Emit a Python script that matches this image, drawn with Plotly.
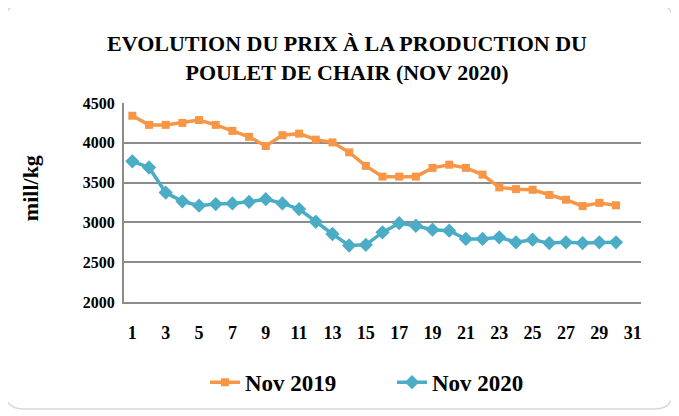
import plotly.graph_objects as go

days = list(range(1, 31))
nov_2019 = [4340, 4225, 4225, 4250, 4285, 4225, 4150, 4075, 3960, 4095,
            4115, 4040, 4005, 3880, 3710, 3575, 3575, 3575, 3685, 3725,
            3685, 3600, 3440, 3418, 3410, 3345, 3285, 3205, 3245, 3215]
nov_2020 = [3767, 3690, 3375, 3265, 3210, 3230, 3238, 3258, 3292, 3238,
            3167, 3008, 2854, 2710, 2718, 2875, 2990, 2958, 2908, 2896,
            2792, 2792, 2813, 2750, 2783, 2740, 2750, 2740, 2750, 2750]
x_ticks = list(range(1, 32, 2))
y_ticks = [2000, 2500, 3000, 3500, 4000, 4500]

# page body has an 8px margin: draw in reference-pixel coords, shifted by OFF
OFF = 8
W, H = 679 - OFF, 416 - OFF
L, R, T, B = 124, 641, 103, 304   # plot area in reference pixels

def px(x):
    return (x - L) / (R - L)

def py(y):
    return (B - y) / (B - T)

font_family = "Liberation Serif"
orange = "#F79646"
blue = "#4BACC6"

fig = go.Figure()
fig.add_trace(go.Scatter(x=days, y=nov_2019, name="<b>Nov 2019</b>", mode="lines+markers",
                         line=dict(color=orange, width=3.5),
                         marker=dict(symbol="square", size=8, color=orange)))
fig.add_trace(go.Scatter(x=days, y=nov_2020, name="<b>Nov 2020</b>", mode="lines+markers",
                         line=dict(color=blue, width=3.5),
                         marker=dict(symbol="diamond", size=11, color=blue)))

# rounded border
x0, x1, y0, y1, r = 5, 673, 3, 412, 18
path = (f"M {px(x0+r)},{py(y0)} L {px(x1-r)},{py(y0)} Q {px(x1)},{py(y0)} {px(x1)},{py(y0+r)} "
        f"L {px(x1)},{py(y1-r)} Q {px(x1)},{py(y1)} {px(x1-r)},{py(y1)} "
        f"L {px(x0+r)},{py(y1)} Q {px(x0)},{py(y1)} {px(x0)},{py(y1-r)} "
        f"L {px(x0)},{py(y0+r)} Q {px(x0)},{py(y0)} {px(x0+r)},{py(y0)} Z")

fig.update_layout(
    width=W, height=H,
    margin=dict(l=L - OFF, r=W - (R - OFF), t=T - OFF, b=H - (B - OFF), pad=0),
    paper_bgcolor="white", plot_bgcolor="white",
    font=dict(family=font_family, color="black"),
    title=dict(text="<b>EVOLUTION DU PRIX À LA PRODUCTION DU<br>POULET DE CHAIR (NOV 2020)</b>",
               x=(347 - OFF) / W, xref="container", xanchor="center",
               y=1 - (51 - OFF) / H, yref="container", yanchor="middle",
               font=dict(size=22, family=font_family, color="black")),
    xaxis=dict(range=[0.5, 31.5], tickvals=x_ticks, ticktext=[f"<b>{v}</b>" for v in x_ticks],
               showgrid=False, showline=True, linecolor="#8c8c8c", linewidth=2,
               ticks="", tickfont=dict(size=18, family=font_family), ticklabelstandoff=13,
               zeroline=False),
    yaxis=dict(range=[2000, 4500], tickvals=y_ticks, ticktext=[f"<b>{v}</b>" for v in y_ticks],
               showgrid=True, gridcolor="#8c8c8c", gridwidth=2,
               showline=True, linecolor="#8c8c8c", linewidth=2,
               ticks="", tickfont=dict(size=16, family=font_family), ticklabelstandoff=4,
               zeroline=False),
    annotations=[dict(text="<b>mill/kg</b>", textangle=-90, xref="paper", yref="paper",
                      x=px(30), y=py(189), xanchor="center", yanchor="middle", showarrow=False,
                      font=dict(size=22, family=font_family, color="black"))],
    legend=dict(orientation="h", x=px(205), xanchor="left", y=py(385), yanchor="middle",
                font=dict(size=23, family=font_family), entrywidth=142, entrywidthmode="pixels",
                tracegroupgap=0),
    showlegend=True,
    shapes=[dict(type="path", path=path, xref="paper", yref="paper",
                 line=dict(color="#d9d9d9", width=1.5), fillcolor="rgba(0,0,0,0)", layer="below")],
)

fig.write_html("out.html")
